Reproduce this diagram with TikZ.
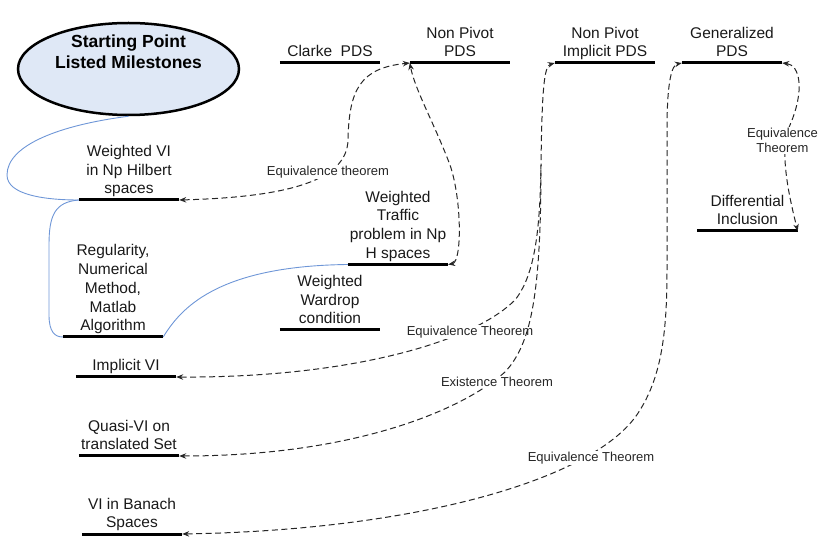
\documentclass[tikz,border=0pt]{standalone}
\usepackage{fontspec}
\setmainfont{Liberation Sans}
\usetikzlibrary{shapes.geometric,arrows.meta}
\definecolor{ellfill}{RGB}{223,232,246}
\definecolor{linkblue}{RGB}{110,150,215}
\begin{document}
\begin{tikzpicture}[x=1pt,y=-1pt,
  ms/.style={font=\fontsize{15.5}{18.7}\selectfont, align=center, inner sep=0pt,
             text depth=0pt, anchor=south, minimum width=100pt, text=black!90},
  bar/.style={line width=3pt},
  thm/.style={draw=black!85, line width=1pt, dash pattern=on 6pt off 3.5pt},
  thmtwo/.style={thm, {Stealth[length=7pt,width=5.5pt]}-{Stealth[length=7pt,width=5.5pt]}},
  thmone/.style={thm, {Stealth[length=7pt,width=5.5pt]}-},
  lbl/.style={font=\fontsize{13}{15}\selectfont, fill=white, inner sep=1pt, text=black!85},
  bluelink/.style={draw=linkblue, line width=0.9pt}
]
\useasboundingbox (0,0) rectangle (820,537);

% starting ellipse
\node[draw, line width=2.5pt, fill=ellfill, ellipse, minimum width=221pt,
      minimum height=92pt, inner sep=0pt] (start) at (128.5,69) {};
\node[font=\bfseries\fontsize{17.5}{20.5}\selectfont, align=center, inner sep=0pt]
      (starttxt) at (128.5,51.5) {Starting Point\\Listed Milestones};

% milestones
\node[ms] (clarke) at (330,57)    {Clarke\ \ PDS};
\node[ms] (npp)    at (460,57)    {Non Pivot\\PDS};
\node[ms] (npi)    at (605,57)    {Non Pivot\\Implicit PDS};
\node[ms] (gen)    at (732,57)    {Generalized\\PDS};
\node[ms] (dfi)    at (747.5,225) {Differential\\Inclusion};
\node[ms] (wvi)    at (129,194)   {Weighted VI\\in Np Hilbert\\spaces};
\node[ms] (wtr)    at (398,258.5) {Weighted\\Traffic\\problem in Np\\H spaces};
\node[ms] (reg)    at (113,331)   {Regularity,\\Numerical\\Method,\\Matlab\\Algorithm};
\node[ms] (wwc)    at (330,324)   {Weighted\\Wardrop\\condition};
\node[ms] (ivi)    at (126,371)   {Implicit VI};
\node[ms] (qvi)    at (129,450)   {Quasi-VI on\\translated Set};
\node[ms] (bvi)    at (132,528)   {VI in Banach\\Spaces};

\foreach \n in {clarke,npp,npi,gen,dfi,wvi,wtr,reg,wwc,ivi,qvi,bvi}{
  \coordinate (\n-l) at ([yshift=-6pt]\n.south west);
  \coordinate (\n-r) at ([yshift=-6pt]\n.south east);
  \draw[bar] (\n-l) -- (\n-r);
}

% blue links
\draw[bluelink] (start.south) .. controls (60,125) and (7,145) .. (7,175)
   .. controls (7,195) and (45,200) .. (wvi-l);
\draw[bluelink] (wvi-l) .. controls (55,202) and (49,215) .. (49,245) -- (49,315)
   .. controls (49,332) and (55,337) .. (reg-l);
\draw[bluelink] (reg-r) .. controls (180,310) and (215,266) .. (wtr-l);

% dashed theorem links
\draw[thmtwo] (wvi-r) .. controls (290,197) and (347,180) .. (348,140)
   .. controls (349,90) and (360,68) .. (npp-l);
\node[lbl] (la) at (328,172) {Equivalence theorem};

\draw[thmtwo] (wtr-r) .. controls (462,262) and (462,200) .. (450,165)
   .. controls (435,125) and (415,90) .. (npp-l);

\coordinate (npjoin) at (541,165);
\draw[thmtwo] (ivi-r) .. controls (340,378) and (470,345) .. (515,300)
   .. controls (535,275) and (540,230) .. (npjoin)
   .. controls (542,90) and (544,66) .. (npi-l);
\node[lbl] (lb) at (470,332) {Equivalence Theorem};

\draw[thmone] (qvi-r) .. controls (350,456) and (460,412) .. (505,372)
   .. controls (530,345) and (541,300) .. (npjoin);
\node[lbl] (lc) at (497,382) {Existence Theorem};

\draw[thmtwo] (bvi-r) .. controls (420,530) and (600,478) .. (640,410)
   .. controls (662,375) and (667,330) .. (667,270) -- (667,130)
   .. controls (667,80) and (672,65) .. (gen-l);
\node[lbl] (ld) at (591,458) {Equivalence Theorem};

\draw[thmtwo] (gen-r) .. controls (800,65) and (805,90) .. (790,125)
   .. controls (778,150) and (790,200) .. (dfi-r);
\node[lbl, align=center] (le) at (782.5,140.5) {Equivalence\\Theorem};
\end{tikzpicture}
\end{document}
